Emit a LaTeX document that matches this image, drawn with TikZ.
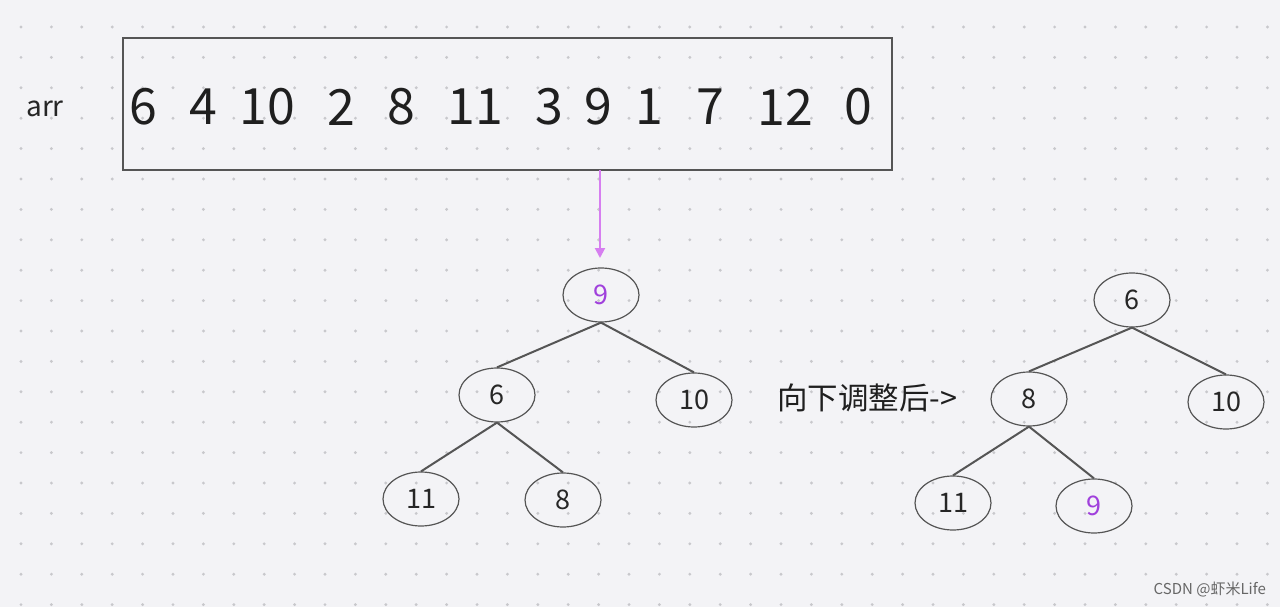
\documentclass[tikz,border=0pt]{standalone}
\usepackage{fontspec}
\setmainfont{Noto Sans CJK SC}
\usetikzlibrary{arrows.meta,shapes.geometric}
\definecolor{bg}{HTML}{F3F3F6}
\definecolor{dot}{HTML}{C8C8CC}
\definecolor{arr}{HTML}{D67EF0}
\definecolor{pur}{HTML}{A040DC}
\definecolor{ln}{HTML}{555555}
\tikzset{
  hn/.style={draw=ln,line width=1.2pt,ellipse,minimum width=76pt,minimum height=54pt,inner sep=0pt,font=\fontsize{27}{27}\selectfont,text=black!85},
  ed/.style={draw=ln,line width=2pt},
  num/.style={font=\fontsize{50}{50}\selectfont,text=black!88,inner sep=0pt}
}
\begin{document}
\begin{tikzpicture}[x=1pt,y=-1pt]
\fill[bg] (0,0) rectangle (1280,607);
\useasboundingbox (0,0) rectangle (1280,607);
\foreach \i in {0,...,41}{\foreach \j in {0,...,19}{
  \fill[dot] (21+30.4*\i,27+30.4*\j) circle (1.6pt);}}
\node[draw=ln,line width=1.2pt,minimum width=769pt,minimum height=132pt,inner sep=0pt] (box) at (507.5,104) {};
\node[font=\fontsize{28}{28}\selectfont,text=black!85] (lab) at (45,109) {arr};
\foreach \v/\x [count=\k] in {6/143,4/203,10/267,2/341,8/401,11/475,3/549,9/598,1/649,7/710,12/785,0/858}
  \node[num] (n\k) at (\x,107) {\v};
\coordinate (top) at (600,258);
\draw[arr,line width=2pt,-{Triangle[length=10pt,width=10pt]}] (600,170) -- (top);
% left tree
\node[hn,text=pur] (a1) at (601,295) {9};
\node[hn] (a2) at (497,395) {6};
\node[hn] (a3) at (694,400) {10};
\node[hn] (a4) at (421,499) {11};
\node[hn] (a5) at (563,500) {8};
\draw[ed] (a1.south) -- (a2.north); \draw[ed] (a1.south) -- (a3.north);
\draw[ed] (a2.south) -- (a4.north); \draw[ed] (a2.south) -- (a5.north);
% right tree
\node[hn] (b1) at (1132,300) {6};
\node[hn] (b2) at (1029,399) {8};
\node[hn] (b3) at (1226,402) {10};
\node[hn] (b4) at (953,503) {11};
\node[hn,text=pur] (b5) at (1094,506) {9};
\draw[ed] (b1.south) -- (b2.north); \draw[ed] (b1.south) -- (b3.north);
\draw[ed] (b2.south) -- (b4.north); \draw[ed] (b2.south) -- (b5.north);
\node[font=\fontsize{30.5}{30.5}\selectfont,text=black!88,anchor=west,inner sep=0pt] (t) at (777,398) {向下调整后->};
\node[font=\fontsize{15}{15}\selectfont,text=black!60,anchor=east,inner sep=0pt] (w) at (1266,590) {CSDN @虾米Life};
\end{tikzpicture}
\end{document}
